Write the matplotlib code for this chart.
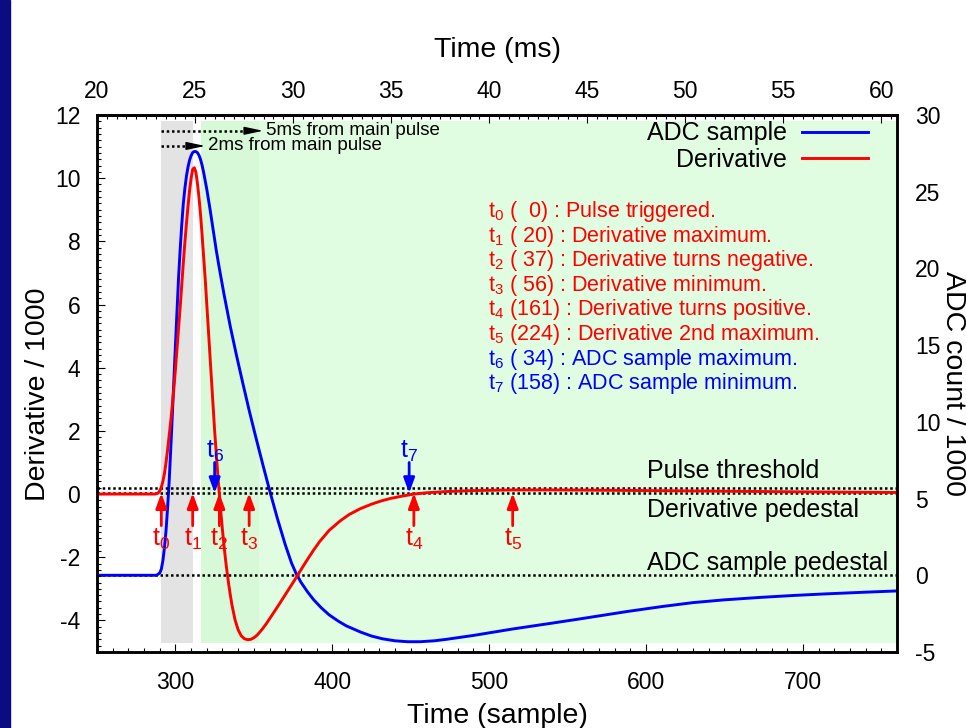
import matplotlib
matplotlib.use("Agg")
import matplotlib.pyplot as plt
from matplotlib.patches import Rectangle
from matplotlib.ticker import MultipleLocator, FixedLocator

plt.rcParams["font.family"] = ["Liberation Sans", "DejaVu Sans"]
plt.rcParams["mathtext.fontset"] = "custom"
plt.rcParams["mathtext.rm"] = "Liberation Sans"
plt.rcParams["mathtext.it"] = "Liberation Sans:italic"
plt.rcParams["mathtext.bf"] = "Liberation Sans:bold"
plt.rcParams["axes.unicode_minus"] = False

# --- ADC sample (count / 1000, right axis) ---
adc_t = [250, 288, 290, 291, 292, 293, 294, 295, 296, 297,
         298, 299, 300, 301, 302, 303, 304, 305, 306, 307,
         308, 309, 310, 311, 312, 313, 314, 315, 316, 317,
         318, 320, 322, 324, 326, 328, 331, 335, 339, 343,
         347, 351, 356, 360, 365, 370, 374, 377, 380, 384,
         388, 393, 398, 404, 409, 418, 425, 432, 440, 448,
         456, 465, 473, 490, 515, 540, 558, 588, 610, 630,
         650, 673, 695, 715, 740, 760]
adc_v = [0.0, 0.0, 0.15, 0.4, 0.95, 1.8, 2.9, 4.4, 6.1, 8.2,
         10.4, 12.7, 15.0, 17.2, 19.4, 21.2, 22.8, 24.2, 25.2, 26.0,
         26.6, 27.05, 27.35, 27.55, 27.62, 27.62, 27.55, 27.38, 27.1, 26.72,
         26.25, 25.15, 23.9, 22.55, 21.2, 20.0, 18.3, 16.2, 14.3, 12.5,
         10.75, 9.1, 7.1, 5.55, 3.7, 2.0, 0.8, 0.1, -0.45, -1.05,
         -1.58, -2.12, -2.58, -3.0, -3.3, -3.7, -3.96, -4.14, -4.27, -4.33,
         -4.33, -4.27, -4.17, -3.92, -3.5, -3.12, -2.84, -2.36, -2.04, -1.78,
         -1.6, -1.44, -1.31, -1.21, -1.1, -1.02]

# --- Derivative (/1000, left axis) ---
der_t = [250, 287, 289, 290, 291, 292, 293, 294, 295, 296,
         297, 298, 299, 300, 301, 302, 303, 304, 305, 306,
         307, 308, 309, 310, 311, 312, 313, 314, 315, 316,
         317, 318, 319, 320, 321, 322, 323, 324, 325, 326,
         327, 328, 329, 330, 331, 332, 333, 334, 335, 336,
         338, 340, 342, 344, 346, 348, 350, 352, 355, 358,
         362, 366, 371, 375, 378, 383, 388, 392, 398, 405,
         411, 418, 425, 431, 437, 444, 452, 460, 473, 490,
         515, 540, 560, 600, 650, 700, 760]
der_v = [0.0, 0.0, 0.03, 0.1, 0.22, 0.4, 0.65, 1.0, 1.4, 1.85,
         2.3, 2.8, 3.35, 3.95, 4.6, 5.25, 5.9, 6.6, 7.3, 7.95,
         8.55, 9.1, 9.6, 10.0, 10.28, 10.33, 10.2, 9.85, 9.4, 8.85,
         8.2, 7.5, 6.8, 6.0, 5.2, 4.4, 3.6, 2.8, 2.0, 1.3,
         0.6, 0.0, -0.6, -1.15, -1.65, -2.1, -2.5, -2.87, -3.2, -3.5,
         -3.98, -4.3, -4.49, -4.58, -4.61, -4.6, -4.55, -4.47, -4.3, -4.1,
         -3.8, -3.5, -3.11, -2.8, -2.56, -2.16, -1.78, -1.5, -1.15, -0.85,
         -0.64, -0.46, -0.32, -0.22, -0.14, -0.07, 0.0, 0.04, 0.08, 0.11,
         0.13, 0.13, 0.125, 0.11, 0.09, 0.07, 0.05]

trigger = 291           # sample of t0
ms_per_sample = 0.08
ms_ticks = [20, 25, 30, 35, 40, 45, 50, 55, 60]
event_off = [0, 20, 37, 56, 161, 224, 34, 158]
event_txt = ["Pulse triggered.", "Derivative maximum.", "Derivative turns negative.",
             "Derivative minimum.", "Derivative turns positive.", "Derivative 2nd maximum.",
             "ADC sample maximum.", "ADC sample minimum."]
event_col = ["red", "red", "red", "red", "red", "red", "blue", "blue"]

threshold = 0.2
der_pedestal = 0.02
adc_pedestal = 0.0

# --- figure ---
fig = plt.figure(figsize=(9.66, 7.28), dpi=100)
fig.patches.append(Rectangle((0, 0), 10 / 966, 1, transform=fig.transFigure,
                             color="#0b0b82", zorder=0))

ax = fig.add_axes([97 / 966, 76 / 728, 800 / 966, 537 / 728])
ax2 = ax.twinx()
ax.set_zorder(ax2.get_zorder() + 1)
ax.patch.set_visible(False)

ax.set_xlim(250, 760)
ax.set_ylim(-5, 12)
ax2.set_ylim(-5, 30)

# shaded windows (drawn on the lower axes so the curves stay on top)
fy0, fy1 = (-4.7 + 5) / 17, (11.8 + 5) / 17
ax2.axvspan(trigger, trigger + 20, fy0, fy1, color="#e3e3e3", lw=0, zorder=0)
ax2.axvspan(trigger + 2 / ms_per_sample, 760, fy0, fy1, color="#e1fde1", lw=0, zorder=0)
ax2.axvspan(trigger + 2 / ms_per_sample, trigger + 5 / ms_per_sample, fy0, fy1,
            color="#d8f9d8", lw=0, zorder=0)

dots = (0, (1, 1.1))
ax2.axhline(adc_pedestal, color="black", ls=dots, lw=1.8, zorder=1)
line_adc, = ax2.plot(adc_t, adc_v, color="#0000ff", lw=2.1, zorder=2, label="ADC sample")

ax.axhline(threshold, color="black", ls=dots, lw=1.8, zorder=1)
ax.axhline(der_pedestal, color="black", ls=dots, lw=1.8, zorder=1)
line_der, = ax.plot(der_t, der_v, color="#ff0000", lw=2.1, zorder=2, label="Derivative")

# pedestal / threshold labels
ax.text(600.5, 0.73, "Pulse threshold", fontsize=18, ha="left", va="center")
ax.text(600.5, -0.50, "Derivative pedestal", fontsize=18, ha="left", va="center")
ax.text(600.5, -2.18, "ADC sample pedestal", fontsize=18, ha="left", va="center")

# 2 ms / 5 ms dotted arrows
for ms, yy, tip in [(5, 11.5, 356), (2, 11.02, 319)]:
    ax.plot([trigger, tip - 8], [yy, yy], color="black", ls=dots, lw=1.8, zorder=3)
    ax.annotate("", xy=(tip, yy), xytext=(tip - 8, yy),
                arrowprops=dict(arrowstyle="-|>,head_length=0.95,head_width=0.2",
                                color="black", lw=1.0, shrinkA=0, shrinkB=0,
                                mutation_scale=12), zorder=3)
    ax.text(tip + 2, yy, f"{ms}ms from main pulse", fontsize=13.5, ha="left", va="center")

# event arrows
for i, (off, col) in enumerate(zip(event_off, event_col)):
    s = trigger + off
    if col == "red":
        ax.annotate("", xy=(s, 0.03), xytext=(s, -1.0),
                    arrowprops=dict(arrowstyle="-|>,head_length=0.6,head_width=0.22",
                                    color=col, lw=2.0, shrinkA=0, shrinkB=0,
                                    mutation_scale=15), zorder=4)
        ax.text(s, -1.05, f"t$_{{{i}}}$", color=col, fontsize=18, ha="center", va="top")
    else:
        ax.annotate("", xy=(s, 0.03), xytext=(s, 1.0),
                    arrowprops=dict(arrowstyle="-|>,head_length=0.6,head_width=0.22",
                                    color=col, lw=2.0, shrinkA=0, shrinkB=0,
                                    mutation_scale=15), zorder=4)
        ax.text(s, 0.95, f"t$_{{{i}}}$", color=col, fontsize=18, ha="center", va="bottom")

# event list
for i, (off, txt, col) in enumerate(zip(event_off, event_txt, event_col)):
    ax.text(499, 8.77 - 0.779 * i, f"t$_{{{i}}}$ ({off:3d}) : {txt}",
            color=col, fontsize=15.5, ha="left", va="baseline")

# legend
ax.legend(handles=[line_adc, line_der], loc="upper right", bbox_to_anchor=(0.964, 0.988),
          frameon=False, markerfirst=False, fontsize=18, handlelength=2.65,
          handletextpad=0.6, labelspacing=0.11, borderpad=0, borderaxespad=0)

# ticks
ax.xaxis.set_major_locator(MultipleLocator(100))
ax.xaxis.set_minor_locator(MultipleLocator(10))
ax.yaxis.set_major_locator(MultipleLocator(2))
ax.yaxis.set_minor_locator(MultipleLocator(0.2))
ax.tick_params(which="both", direction="in", top=False, right=False, width=0.8,
               labelsize=16.5)
ax.tick_params(which="major", length=6)
ax.tick_params(which="minor", length=3)
ax.tick_params(axis="x", pad=14)
ax.tick_params(axis="y", pad=12)

ax2.yaxis.set_major_locator(MultipleLocator(5))
ax2.tick_params(axis="y", length=0, labelsize=16.5, pad=13)

secax = ax.secondary_xaxis("top", functions=(lambda s: s * ms_per_sample,
                                             lambda m: m / ms_per_sample))
secax.xaxis.set_major_locator(FixedLocator(ms_ticks))
secax.xaxis.set_minor_locator(MultipleLocator(0.5))
secax.tick_params(which="both", direction="in", width=0.8, labelsize=16.5, pad=8.5)
secax.tick_params(which="major", length=6)
secax.tick_params(which="minor", length=3)

for a in (ax, ax2):
    for sp in a.spines.values():
        sp.set_linewidth(1.8)
secax.spines["top"].set_linewidth(1.8)

# axis labels
ax.set_xlabel("Time (sample)", fontsize=20.5, labelpad=6.5)
secax.set_xlabel("Time (ms)", fontsize=20.5, labelpad=17)
ax.set_ylabel("Derivative / 1000", fontsize=20.5, va="center")
ax.yaxis.set_label_coords(-0.074, 0.48)
ax2.set_ylabel("ADC count / 1000", fontsize=20.5, rotation=270, va="center")
ax2.yaxis.set_label_coords(1.07, 0.5)

fig.savefig("out.png", dpi=100)
